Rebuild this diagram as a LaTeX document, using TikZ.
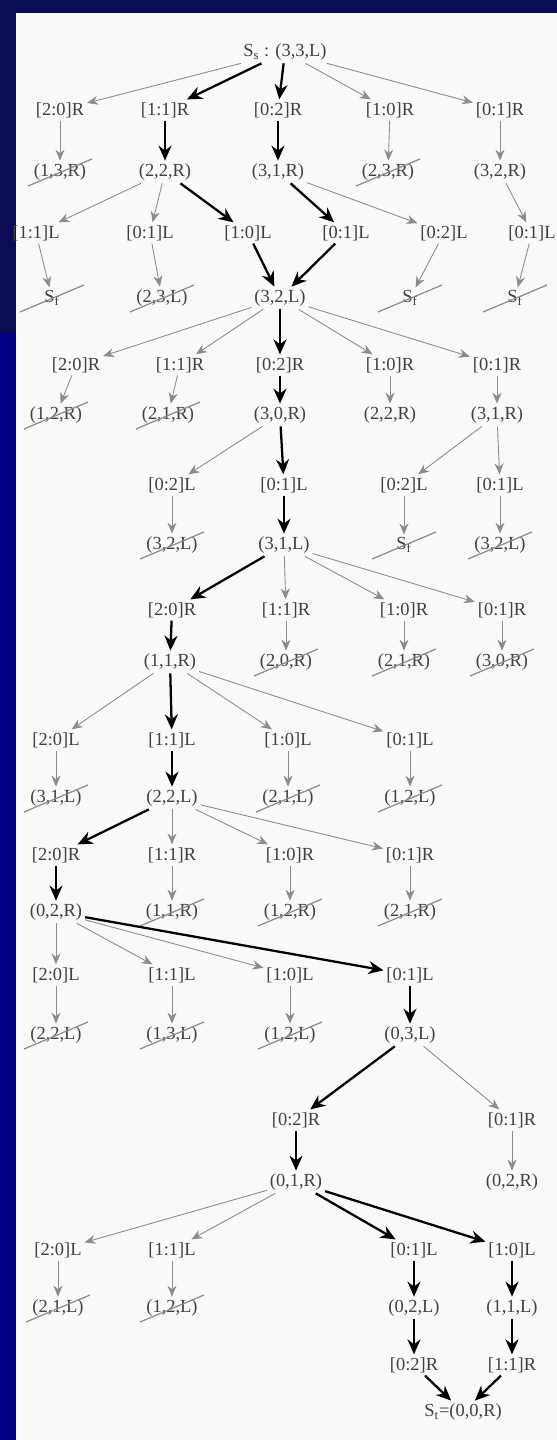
\documentclass[tikz,border=0pt]{standalone}
\usepackage{fontspec}
\setmainfont{Liberation Serif}
\usetikzlibrary{arrows.meta,calc}
\definecolor{Navy}{HTML}{000080}
\definecolor{DarkNavy}{HTML}{0B0B55}
\definecolor{Paper}{HTML}{F8FAF8}
\definecolor{Ink}{HTML}{404040}
\definecolor{Faint}{HTML}{8C8C8C}
\tikzset{
  lbl/.style={
    inner sep=1.5pt,
    font=\fontsize{10.5}{12}\selectfont,
    text=Ink
  },
  thinarrow/.style={
    -{Stealth[length=2.2mm,width=1.8mm]},
    line width=0.5pt,
    draw=Faint
  },
  thickarrow/.style={
    -{Stealth[length=3mm,width=2.6mm]},
    line width=1.3pt,
    draw=black
  },
  strike/.style={
    draw=Faint,
    line width=0.7pt
  }
}

\begin{document}
\begin{tikzpicture}[x=0.02cm, y=-0.02cm]
\useasboundingbox (0,0) rectangle (557,1440);
% background
\fill[Navy] (0,0) rectangle (557,1440);
\fill[DarkNavy] (0,0) rectangle (557,13);
\fill[DarkNavy] (0,0) rectangle (16,333);
\fill[Paper] (16,13) rectangle (557,1440);

% level 0
\node[lbl] (start) at (285,52) {S\textsubscript{s} : (3,3,L)};
% level 1
\node[lbl] (opa1) at (60,110) {[2:0]R};
\node[lbl] (opa2) at (165,110) {[1:1]R};
\node[lbl] (opa3) at (278,110) {[0:2]R};
\node[lbl] (opa4) at (390,110) {[1:0]R};
\node[lbl] (opa5) at (500,110) {[0:1]R};
\node[lbl] (sta1) at (60,172) {(1,3,R)};
\node[lbl] (sta2) at (165,172) {(2,2,R)};
\node[lbl] (sta3) at (278,172) {(3,1,R)};
\node[lbl] (sta4) at (388,172) {(2,3,R)};
\node[lbl] (sta5) at (500,172) {(3,2,R)};
% level 2
\node[lbl] (opb1) at (36,233) {[1:1]L};
\node[lbl] (opb2) at (150,233) {[0:1]L};
\node[lbl] (opb3) at (248,233) {[1:0]L};
\node[lbl] (opb4) at (346,233) {[0:1]L};
\node[lbl] (opb5) at (444,233) {[0:2]L};
\node[lbl] (opb6) at (532,233) {[0:1]L};
\node[lbl] (stb1) at (52,298) {S\textsubscript{f}};
\node[lbl] (stb2) at (162,298) {(2,3,L)};
\node[lbl] (stb3) at (280,298) {(3,2,L)};
\node[lbl] (stb4) at (410,298) {S\textsubscript{f}};
\node[lbl] (stb5) at (515,298) {S\textsubscript{f}};
% level 3
\node[lbl] (opc1) at (76,365) {[2:0]R};
\node[lbl] (opc2) at (180,365) {[1:1]R};
\node[lbl] (opc3) at (280,365) {[0:2]R};
\node[lbl] (opc4) at (390,365) {[1:0]R};
\node[lbl] (opc5) at (497,365) {[0:1]R};
\node[lbl] (stc1) at (56,415) {(1,2,R)};
\node[lbl] (stc2) at (168,415) {(2,1,R)};
\node[lbl] (stc3) at (280,415) {(3,0,R)};
\node[lbl] (stc4) at (390,415) {(2,2,R)};
\node[lbl] (stc5) at (497,415) {(3,1,R)};
% level 4
\node[lbl] (opd1) at (172,485) {[0:2]L};
\node[lbl] (opd2) at (284,485) {[0:1]L};
\node[lbl] (opd3) at (404,485) {[0:2]L};
\node[lbl] (opd4) at (500,485) {[0:1]L};
\node[lbl] (std1) at (172,545) {(3,2,L)};
\node[lbl] (std2) at (284,545) {(3,1,L)};
\node[lbl] (std3) at (404,545) {S\textsubscript{f}};
\node[lbl] (std4) at (500,545) {(3,2,L)};
% level 5
\node[lbl] (ope1) at (172,610) {[2:0]R};
\node[lbl] (ope2) at (286,610) {[1:1]R};
\node[lbl] (ope3) at (404,610) {[1:0]R};
\node[lbl] (ope4) at (502,610) {[0:1]R};
\node[lbl] (ste1) at (170,662) {(1,1,R)};
\node[lbl] (ste2) at (286,662) {(2,0,R)};
\node[lbl] (ste3) at (404,662) {(2,1,R)};
\node[lbl] (ste4) at (502,662) {(3,0,R)};
% level 6
\node[lbl] (opf1) at (56,740) {[2:0]L};
\node[lbl] (opf2) at (172,740) {[1:1]L};
\node[lbl] (opf3) at (288,740) {[1:0]L};
\node[lbl] (opf4) at (410,740) {[0:1]L};
\node[lbl] (stf1) at (56,798) {(3,1,L)};
\node[lbl] (stf2) at (172,798) {(2,2,L)};
\node[lbl] (stf3) at (288,798) {(2,1,L)};
\node[lbl] (stf4) at (410,798) {(1,2,L)};
% level 7
\node[lbl] (opg1) at (56,855) {[2:0]R};
\node[lbl] (opg2) at (172,855) {[1:1]R};
\node[lbl] (opg3) at (290,855) {[1:0]R};
\node[lbl] (opg4) at (410,855) {[0:1]R};
\node[lbl] (stg1) at (56,912) {(0,2,R)};
\node[lbl] (stg2) at (172,912) {(1,1,R)};
\node[lbl] (stg3) at (290,912) {(1,2,R)};
\node[lbl] (stg4) at (410,912) {(2,1,R)};
% level 8
\node[lbl] (oph1) at (56,975) {[2:0]L};
\node[lbl] (oph2) at (172,975) {[1:1]L};
\node[lbl] (oph3) at (290,975) {[1:0]L};
\node[lbl] (oph4) at (410,975) {[0:1]L};
\node[lbl] (sth1) at (56,1035) {(2,2,L)};
\node[lbl] (sth2) at (172,1035) {(1,3,L)};
\node[lbl] (sth3) at (290,1035) {(1,2,L)};
\node[lbl] (sth4) at (410,1035) {(0,3,L)};
% level 9
\node[lbl] (opi1) at (296,1120) {[0:2]R};
\node[lbl] (opi2) at (512,1120) {[0:1]R};
\node[lbl] (sti1) at (296,1182) {(0,1,R)};
\node[lbl] (sti2) at (512,1182) {(0,2,R)};
% level 10
\node[lbl] (opj1) at (58,1250) {[2:0]L};
\node[lbl] (opj2) at (172,1250) {[1:1]L};
\node[lbl] (opj3) at (414,1250) {[0:1]L};
\node[lbl] (opj4) at (512,1250) {[1:0]L};
\node[lbl] (stj1) at (58,1308) {(2,1,L)};
\node[lbl] (stj2) at (172,1308) {(1,2,L)};
\node[lbl] (stj3) at (414,1308) {(0,2,L)};
\node[lbl] (stj4) at (512,1308) {(1,1,L)};
% level 11
\node[lbl] (opk1) at (414,1365) {[0:2]R};
\node[lbl] (opk2) at (512,1365) {[1:1]R};
\node[lbl] (goal) at (463,1412) {S\textsubscript{t}=(0,0,R)};

% dead ends
\foreach \n in {sta1,sta4,stb1,stb2,stb4,stb5,stc1,stc2,std1,std3,std4,
                ste2,ste3,ste4,stf1,stf3,stf4,stg2,stg3,stg4,
                sth1,sth2,sth3,stj1,stj2}
  \draw[strike] ($(\n)+(-32,14)$) -- ($(\n)+(32,-13)$);

% moves
\foreach \a/\b in {start/opa1,start/opa4,start/opa5,opa1/sta1,opa4/sta4,opa5/sta5,
                   sta2/opb1,sta2/opb2,sta3/opb5,sta5/opb6,
                   opb1/stb1,opb2/stb2,opb5/stb4,opb6/stb5,
                   stb3/opc1,stb3/opc2,stb3/opc4,stb3/opc5,
                   opc1/stc1,opc2/stc2,opc4/stc4,opc5/stc5,
                   stc3/opd1,stc5/opd3,stc5/opd4,opd1/std1,opd3/std3,opd4/std4,
                   std2/ope2,std2/ope3,std2/ope4,ope2/ste2,ope3/ste3,ope4/ste4,
                   ste1/opf1,ste1/opf3,ste1/opf4,opf1/stf1,opf3/stf3,opf4/stf4,
                   stf2/opg2,stf2/opg3,stf2/opg4,opg2/stg2,opg3/stg3,opg4/stg4,
                   stg1/oph1,stg1/oph2,stg1/oph3,oph1/sth1,oph2/sth2,oph3/sth3,
                   sth4/opi2,opi2/sti2,sti1/opj1,sti1/opj2,opj1/stj1,opj2/stj2}
  \draw[thinarrow] (\a) -- (\b);

% solution path
\foreach \a/\b in {start/opa2,start/opa3,opa2/sta2,opa3/sta3,sta2/opb3,sta3/opb4,
                   opb3/stb3,opb4/stb3,stb3/opc3,opc3/stc3,stc3/opd2,opd2/std2,
                   std2/ope1,ope1/ste1,ste1/opf2,opf2/stf2,stf2/opg1,opg1/stg1,
                   stg1/oph4,oph4/sth4,sth4/opi1,opi1/sti1,sti1/opj3,sti1/opj4,
                   opj3/stj3,opj4/stj4,stj3/opk1,stj4/opk2,opk1/goal,opk2/goal}
  \draw[thickarrow] (\a) -- (\b);
\end{tikzpicture}
\end{document}
